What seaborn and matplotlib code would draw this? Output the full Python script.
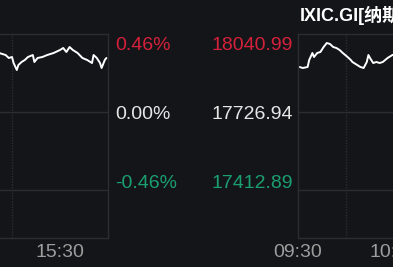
import matplotlib
matplotlib.use("Agg")
import matplotlib.pyplot as plt
import seaborn as sns
import pandas as pd

# ---- data ----
# minutes since 09:30 (previous session, tail end)
prev_minute = [320, 322, 324, 326, 328, 330, 331, 333, 334, 336, 338, 340, 343, 344, 346,
               349, 352, 356, 360, 362, 364, 366, 368, 371, 374, 377, 380, 381, 383, 385,
               386, 388, 389]
prev_price = [17962.0, 17964.5, 17960.5, 17956.4, 17944.4, 17948.4, 17924.2, 17896.1, 17916.2,
              17928.3, 17936.3, 17948.4, 17956.4, 17928.3, 17944.4, 17948.4, 17956.4, 17964.5,
              17976.6, 17984.6, 17968.5, 17988.6, 17976.6, 17964.5, 17944.4, 17936.3, 17924.2,
              17956.4, 17944.4, 17924.2, 17904.1, 17936.3, 17944.4]
# minutes since 09:30 (current session)
today_minute = [1, 3, 6, 7, 9, 10, 12, 14, 16, 18, 20, 22, 24, 26, 28, 31, 33, 34, 37, 39,
                41, 43, 44, 45, 47, 49, 51, 53, 56, 57, 59, 61]
today_price = [17908.1, 17904.1, 17908.1, 17936.3, 17964.5, 17948.4, 17964.5, 17968.5,
               17988.6, 18004.8, 18000.7, 17988.6, 17984.6, 17976.6, 17964.5, 17948.4,
               17936.3, 17928.3, 17916.2, 17908.1, 17904.1, 17928.3, 17956.4, 17944.4,
               17924.2, 17928.3, 17924.2, 17928.3, 17944.4, 17948.4, 17956.4, 17960.5]

price_levels = [18040.99, 17726.94, 17412.89]
pct_labels = ["0.46%", "0.00%", "-0.46%"]
price_labels = ["18040.99", "17726.94", "17412.89"]
prev_tick_minutes = [360]
prev_tick_labels = ["15:30"]
today_tick_minutes = [0, 60]
today_tick_labels = ["09:30", "10:30"]
title_text = "IXIC.GI[纳斯达克指数]"

# ---- style ----
BG = "#141519"
GRID = "#2c2d32"
RED = "#d4213b"
GREEN = "#1b9f70"
WHITE = "#e6e6e6"
GRAY = "#9d9d9d"

sns.set_theme(style="dark")
plt.rcParams["font.family"] = ["Liberation Sans", "Noto Sans CJK SC", "DejaVu Sans"]
plt.rcParams["axes.facecolor"] = BG
plt.rcParams["figure.facecolor"] = BG

W, H = 393, 267
fig = plt.figure(figsize=(W / 100, H / 100), dpi=100)

px_per_min = 1.6
top_px, bot_px = 34, 238
mid_px = 112
unit = (price_levels[0] - price_levels[1]) / (mid_px - top_px)
ylim = (price_levels[1] - (bot_px - mid_px) * unit, price_levels[0])

ax_b = (H - bot_px) / H
ax_h = (bot_px - top_px) / H

# left panel: from -20px to 108px
l_left, l_right = -20, 108
ax1 = fig.add_axes([l_left / W, ax_b, (l_right - l_left) / W, ax_h])
ax1.set_xlim(390 - (l_right - l_left) / px_per_min, 390)
# right panel: from 298px beyond right edge
r_left, r_right = 298, 420
ax2 = fig.add_axes([r_left / W, ax_b, (r_right - r_left) / W, ax_h])
ax2.set_xlim(0, (r_right - r_left) / px_per_min)

df1 = pd.DataFrame({"m": prev_minute, "p": prev_price})
df2 = pd.DataFrame({"m": today_minute, "p": today_price})
sns.lineplot(data=df1, x="m", y="p", ax=ax1, color="white", linewidth=1.4)
sns.lineplot(data=df2, x="m", y="p", ax=ax2, color="white", linewidth=1.4)

for ax in (ax1, ax2):
    ax.set_ylim(*ylim)
    ax.set_facecolor(BG)
    ax.grid(False)
    ax.set_xlabel("")
    ax.set_ylabel("")
    ax.set_yticks([])
    for lv in price_levels[1:]:
        ax.axhline(lv, color=GRID, linewidth=1.0, zorder=0)
    for s in ax.spines.values():
        s.set_color(GRID)
        s.set_linewidth(1.0)
    ax.tick_params(axis="x", length=0, pad=4, labelsize=14, labelcolor=GRAY)

ax1.spines["left"].set_visible(False)
ax2.spines["right"].set_visible(False)
ax1.axvline(330, color=GRID, linewidth=1.0, linestyle=(0, (1, 1)), zorder=0)
ax2.axvline(30, color=GRID, linewidth=1.0, linestyle=(0, (1, 1)), zorder=0)

ax1.set_xticks(prev_tick_minutes)
ax1.set_xticklabels(prev_tick_labels)
ax2.set_xticks(today_tick_minutes)
ax2.set_xticklabels(today_tick_labels)
for lab in ax2.get_xticklabels():
    lab.set_clip_on(False)

colors = [RED, WHITE, GREEN]
offsets = [-11.5, -5.0, 1.4]
for lv, pl, prl, c, off in zip(price_levels, pct_labels, price_labels, colors, offsets):
    ax1.annotate(pl, xy=(1, lv), xycoords=("axes fraction", "data"),
                 xytext=(5, off), textcoords="offset points",
                 ha="left", va="baseline", color=c, fontsize=14,
                 annotation_clip=False)
    ax2.annotate(prl, xy=(0, lv), xycoords=("axes fraction", "data"),
                 xytext=(-3.6, off), textcoords="offset points",
                 ha="right", va="baseline", color=c, fontsize=14,
                 annotation_clip=False)

fig.text(300 / W, 1 - 21 / H, title_text, ha="left", va="baseline",
         color="white", fontsize=13, fontweight="bold",
         family=["Liberation Sans", "Noto Sans CJK SC"])

fig.savefig("out.png", dpi=100, facecolor=BG)
